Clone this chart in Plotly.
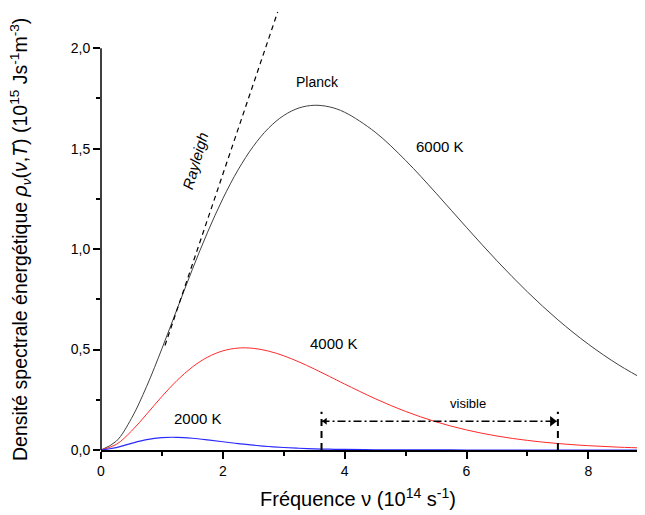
import plotly.graph_objects as go

# frequency grid (10^14 s^-1)
nu = [0, 0.25, 0.5, 0.75, 1.0, 1.25, 1.5, 1.75, 2.0, 2.25, 2.5, 2.75, 3.0,
      3.25, 3.5, 3.75, 4.0, 4.5, 5.0, 5.5, 6.0, 6.5, 7.0, 7.5, 8.0, 8.5, 9.0]

rho_6000 = [0, 0.0436, 0.1571, 0.3172, 0.5043, 0.7026, 0.8991, 1.0842, 1.2509,
            1.3942, 1.5116, 1.6018, 1.6650, 1.7024, 1.7158, 1.7078, 1.6810,
            1.5822, 1.4415, 1.2782, 1.1078, 0.9416, 0.7869, 0.6480, 0.5267,
            0.4232, 0.3366]
rho_4000 = [0, 0.0276, 0.0940, 0.1787, 0.2664, 0.3467, 0.4131, 0.4623, 0.4933,
            0.5073, 0.5060, 0.4923, 0.4688, 0.4384, 0.4035, 0.3662, 0.3283,
            0.2556, 0.1920, 0.1401, 0.0998, 0.0696, 0.0477, 0.0322, 0.0214,
            0.0141, 0.0092]
rho_2000 = [0, 0.0118, 0.0333, 0.0516, 0.0617, 0.0633, 0.0586, 0.0504, 0.0410,
            0.0319, 0.0240, 0.0175, 0.0125, 0.0087, 0.0060, 0.0040, 0.0027,
            0.0012, 0.0005, 0.0002, 0.0001, 0, 0, 0, 0, 0, 0]

rayleigh_nu = [1.05, 2.90]
rayleigh_rho = [0.52, 2.18]

vis_left = 3.62
vis_right = 7.50
vis_top = 0.19
vis_arrow_y = 0.143

x_ticks = [0, 2, 4, 6, 8]
y_ticks = [0.0, 0.5, 1.0, 1.5, 2.0]
y_tick_text = ["0,0", "0,5", "1,0", "1,5", "2,0"]

FONT = "Arial, Liberation Sans, sans-serif"

fig = go.Figure()
fig.add_trace(go.Scatter(x=nu, y=rho_6000, mode="lines", line=dict(color="#404040", width=1, shape="spline")))
fig.add_trace(go.Scatter(x=nu, y=rho_4000, mode="lines", line=dict(color="#ff2a2a", width=1, shape="spline")))
fig.add_trace(go.Scatter(x=nu, y=rho_2000, mode="lines", line=dict(color="#2a2aff", width=1.2, shape="spline")))
fig.add_trace(go.Scatter(x=rayleigh_nu, y=rayleigh_rho, mode="lines",
                         line=dict(color="black", width=1.2, dash="5px,4px")))

# visible range markers
for xv in (vis_left, vis_right):
    fig.add_trace(go.Scatter(x=[xv, xv], y=[0, vis_top], mode="lines",
                             line=dict(color="black", width=2, dash="7px,5px")))
fig.add_trace(go.Scatter(x=[vis_left, vis_right], y=[vis_arrow_y, vis_arrow_y], mode="lines",
                         line=dict(color="black", width=1.3, dash="8px,3px,2px,3px")))
fig.add_trace(go.Scatter(x=[vis_left + 0.06], y=[vis_arrow_y], mode="markers",
                         marker=dict(symbol="triangle-left", size=6, color="black")))
fig.add_trace(go.Scatter(x=[vis_right - 0.09], y=[vis_arrow_y], mode="markers",
                         marker=dict(symbol="triangle-right", size=9, color="black")))

labels = [
    ("Planck", 3.56, 1.83, 14, 0, False),
    ("6000 K", 5.56, 1.51, 15, 0, False),
    ("4000 K", 3.82, 0.53, 15, 0, False),
    ("2000 K", 1.60, 0.155, 15, 0, False),
    ("visible", 6.02, 0.233, 13, 0, False),
    ("Rayleigh", 1.55, 1.44, 15, -74, True),
]
for txt, xx, yy, sz, ang, ital in labels:
    fig.add_annotation(x=xx, y=yy, xref="x", yref="y", showarrow=False,
                       text=f"<i>{txt}</i>" if ital else txt, textangle=ang,
                       font=dict(family=FONT, size=sz, color="black"))

# axis titles
fig.add_annotation(x=0.4724, y=0, xref="paper", yref="paper", yshift=-47,
                   xanchor="center", yanchor="middle", showarrow=False,
                   text="Fréquence ν (10<sup>14</sup> s<sup>-1</sup>)",
                   font=dict(family=FONT, size=20, color="black"))
fig.add_annotation(x=0, y=0.5, xref="paper", yref="paper", xshift=-81, yshift=-11,
                   xanchor="center", yanchor="middle", showarrow=False, textangle=-90,
                   text="Densité spectrale énergétique <i>ρ<sub>ν</sub></i>(<i>ν</i>,<i>T</i>) (10<sup>15</sup> Js<sup>-1</sup>m<sup>-3</sup>)",
                   font=dict(family=FONT, size=19.5, color="black"))

# y axis line only up to 2.0
fig.add_shape(type="line", xref="paper", yref="y", x0=0, x1=0, y0=0, y1=2.0,
              line=dict(color="black", width=1.5))

fig.update_layout(
    width=637, height=507,
    margin=dict(l=93, r=0, t=0, b=65),
    paper_bgcolor="white", plot_bgcolor="white",
    showlegend=False,
    separators=", ",
    font=dict(family=FONT, color="black"),
)
fig.update_xaxes(
    range=[0, 8.93], tickvals=x_ticks, ticktext=[str(v) for v in x_ticks],
    showgrid=False, zeroline=False, showline=True, linecolor="black", linewidth=1.5,
    ticks="outside", ticklen=7, tickwidth=1.5, tickcolor="black",
    tickfont=dict(size=14, family=FONT), automargin=False,
    minor=dict(tickvals=[1, 3, 5, 7], ticks="outside", ticklen=4, tickwidth=1.5, tickcolor="black"),
)
fig.update_yaxes(
    range=[0, 2.2], tickvals=y_ticks, ticktext=y_tick_text,
    showgrid=False, zeroline=False, showline=False,
    ticks="outside", ticklen=7, tickwidth=1.5, tickcolor="black",
    tickfont=dict(size=14, family=FONT), automargin=False,
    minor=dict(tickvals=[0.25, 0.75, 1.25, 1.75], ticks="outside", ticklen=4, tickwidth=1.5, tickcolor="black"),
)

fig.write_html("out.html")
